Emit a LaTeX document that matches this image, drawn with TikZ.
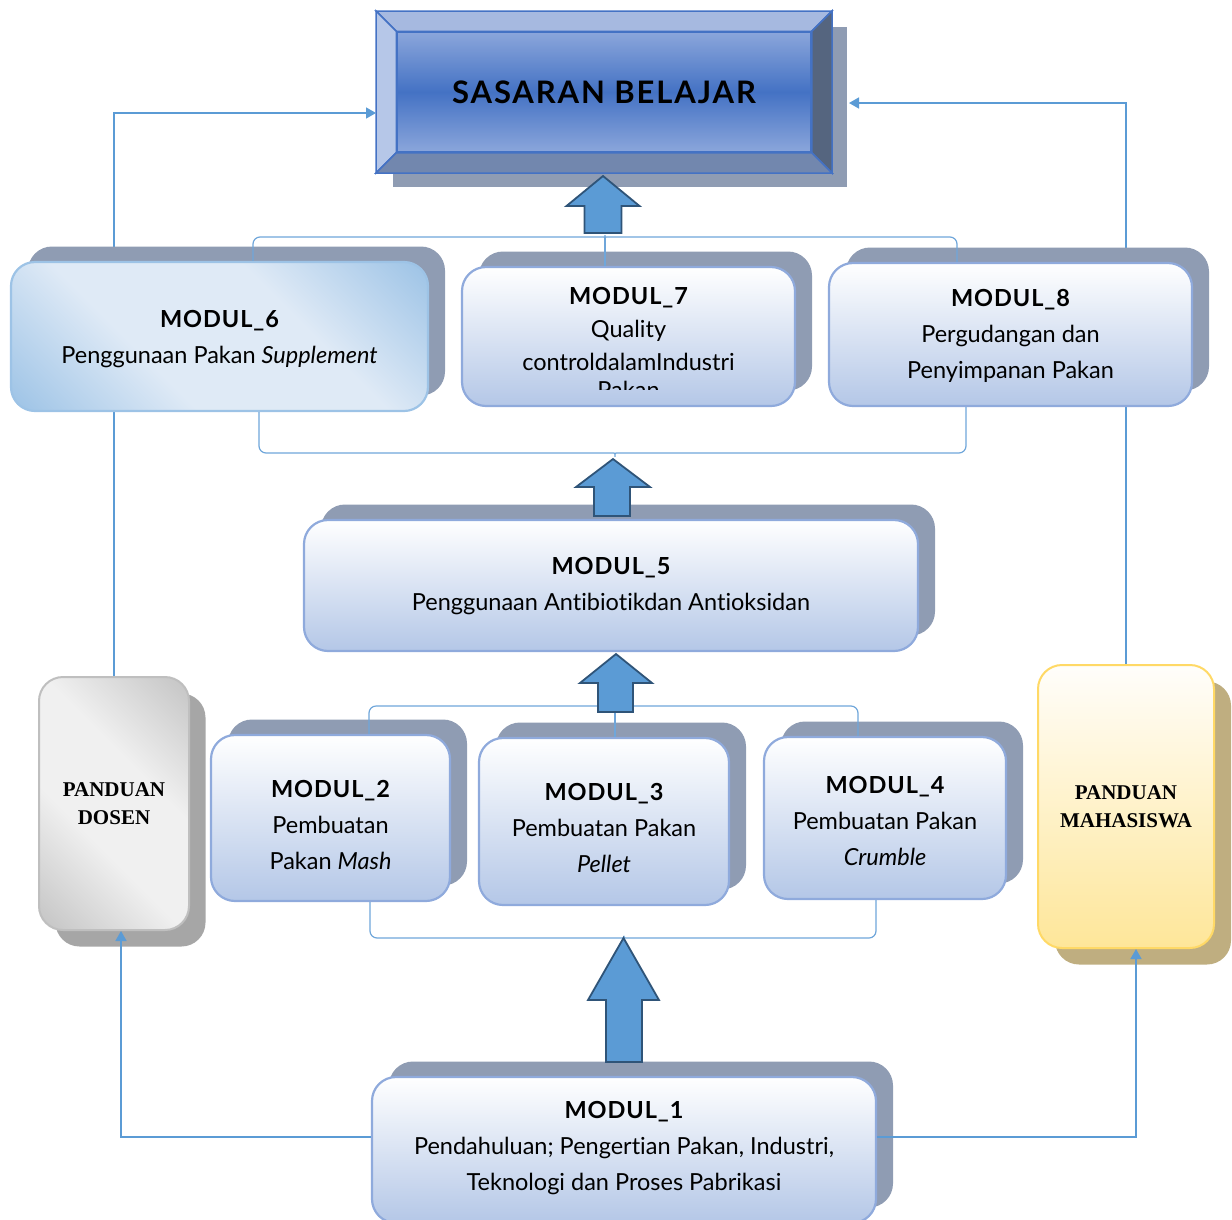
\documentclass[tikz,border=0pt]{standalone}
\usepackage{fontspec}
\setmainfont{Lato}[Ligatures=NoCommon]
\newfontfamily\panduanfont{Liberation Serif}
\usepackage{xcolor}
\usepackage{tikz}
\usetikzlibrary{arrows.meta, positioning, shadows}

\definecolor{linkblue}{HTML}{5B9BD5}
\definecolor{bracketblue}{HTML}{6FA6DA}
\definecolor{arrowfill}{HTML}{5B9BD5}
\definecolor{arrowedge}{HTML}{2F5478}
\definecolor{modedge}{HTML}{8FAADC}
\definecolor{modlow}{HTML}{B4C7E7}
\definecolor{modshadow}{HTML}{8F9CB3}
\definecolor{suppblue}{HTML}{9DC3E6}
\definecolor{supppale}{HTML}{DFEAF6}
\definecolor{sasedge}{HTML}{4472C4}
\definecolor{sasmid}{HTML}{4472C4}
\definecolor{saslight}{HTML}{8BA6DB}
\definecolor{bevtop}{HTML}{A6B9E0}
\definecolor{bevleft}{HTML}{B6C7E8}
\definecolor{bevright}{HTML}{55657F}
\definecolor{bevbottom}{HTML}{7287AE}
\definecolor{grayedge}{HTML}{BFBFBF}
\definecolor{graydark}{HTML}{C4C4C4}
\definecolor{graylight}{HTML}{F0F0F0}
\definecolor{grayshadow}{HTML}{A6A6A6}
\definecolor{mahaedge}{HTML}{FFD966}
\definecolor{mahatop}{HTML}{FFFEFB}
\definecolor{mahalow}{HTML}{FEE699}
\definecolor{mahashadow}{HTML}{BFAE80}

\pgfdeclarehorizontalshading{suppshade}{100bp}{color(0bp)=(suppblue); color(15bp)=(suppblue); color(38bp)=(supppale); color(62bp)=(supppale); color(85bp)=(suppblue); color(100bp)=(suppblue)}
\pgfdeclarehorizontalshading{grayshade}{100bp}{color(0bp)=(graydark); color(15bp)=(graydark); color(40bp)=(graylight); color(60bp)=(graylight); color(85bp)=(graydark); color(100bp)=(graydark)}

\newcommand{\modtitle}[1]{{\bfseries\addfontfeatures{LetterSpace=4}#1}}

\begin{document}
\begin{tikzpicture}[x=1pt, y=-1pt,
  modbox/.style={draw=modedge, line width=2.2pt, rounded corners=24pt, top color=white, bottom color=modlow,
    inner sep=0pt, general shadow={shadow xshift=17pt, shadow yshift=15.5pt, fill=modshadow}},
  modtext/.style={align=center, inner sep=0pt, font=\fontsize{23.5}{36}\selectfont},
  guidebox/.style={line width=2pt, rounded corners=24pt, align=center, inner sep=0pt,
    font=\panduanfont\bfseries\fontsize{21}{28}\selectfont},
  link/.style={draw=linkblue, line width=1.5pt},
  linkarrow/.style={-{Triangle[length=10pt,width=11pt]}},
  bracketline/.style={draw=bracketblue, line width=1.2pt, rounded corners=7pt},
  blockarrow/.style={fill=arrowfill, draw=arrowedge, line width=1.8pt},
]
\useasboundingbox (0,0) rectangle (1232,1219);
\clip (0,0) rectangle (1232,1219);

% guides left and right
\node[guidebox, draw=grayedge, shading=grayshade, shading angle=45, minimum width=150, minimum height=253,
  general shadow={shadow xshift=16.5pt, shadow yshift=-16.5pt, fill=grayshadow}] (dosen) at (114,803.5) {PANDUAN\\DOSEN};
\node[guidebox, draw=mahaedge, top color=mahatop, bottom color=mahalow, minimum width=176, minimum height=283,
  general shadow={shadow xshift=17pt, shadow yshift=-16.5pt, fill=mahashadow}] (maha) at (1126,806.5) {PANDUAN\\MAHASISWA};

% goal box
\node[draw=sasedge, line width=2pt, minimum width=454, minimum height=160, inner sep=0pt,
  general shadow={shadow xshift=16pt, shadow yshift=-15pt, fill=modshadow}] (sasframe) at (604,92) {};
\node[draw=sasedge, line width=1.5pt, minimum width=414, minimum height=120, inner sep=0pt,
  top color=saslight, bottom color=saslight, middle color=sasmid,
  font=\bfseries\fontsize{31}{32}\selectfont\addfontfeatures{LetterSpace=6}] (sasaran) at (604,92) {SASARAN BELAJAR};
\draw[sasedge, line width=1.5pt, fill=bevtop] (sasframe.north west) -- (sasframe.north east) -- (sasaran.north east) -- (sasaran.north west) -- cycle;
\draw[sasedge, line width=1.5pt, fill=bevleft] (sasframe.north west) -- (sasaran.north west) -- (sasaran.south west) -- (sasframe.south west) -- cycle;
\draw[sasedge, line width=1.5pt, fill=bevright] (sasframe.north east) -- (sasaran.north east) -- (sasaran.south east) -- (sasframe.south east) -- cycle;
\draw[sasedge, line width=1.5pt, fill=bevbottom] (sasframe.south west) -- (sasaran.south west) -- (sasaran.south east) -- (sasframe.south east) -- cycle;

% guide links to the goal
\draw[link, linkarrow] (dosen.north) |- ([yshift=-21pt]sasframe.west);
\draw[link, linkarrow] (maha.north) |- ([xshift=17pt,yshift=-11pt]sasframe.east);

% modules
\node[modbox, draw=suppblue, shading=suppshade, shading angle=45, minimum width=417, minimum height=149] (m6) at (219.5,336.5) {};
\node[modbox, minimum width=333, minimum height=139] (m7) at (628.5,336.5) {};
\node[modbox, minimum width=363, minimum height=143] (m8) at (1010.5,334.5) {};
\node[modbox, minimum width=614, minimum height=131] (m5) at (611,585.5) {};
\node[modbox, minimum width=239, minimum height=166] (m2) at (330.5,818) {};
\node[modbox, minimum width=250, minimum height=167] (m3) at (604,821.5) {};
\node[modbox, minimum width=242, minimum height=162] (m4) at (885,818) {};
\node[modbox, minimum width=504, minimum height=146] (m1) at (624,1150) {};

% module texts
\node[modtext] (t6) at ([yshift=-3pt]m6.center) {\modtitle{MODUL\_6}\\Penggunaan Pakan \textit{Supplement}};
\node[modtext, font=\fontsize{23.5}{33}\selectfont] (t7) at ([yshift=7.5pt]m7.center) {\modtitle{MODUL\_7}\\Quality\\controldalamIndustri};
\node[modtext] (t8) at ([yshift=-1pt]m8.center) {\modtitle{MODUL\_8}\\Pergudangan dan\\Penyimpanan Pakan};
\node[modtext] (t5) at ([yshift=-1pt]m5.center) {\modtitle{MODUL\_5}\\Penggunaan Antibiotikdan Antioksidan};
\node[modtext] (t2) at ([yshift=-7pt]m2.center) {\modtitle{MODUL\_2}\\Pembuatan\\Pakan \textit{Mash}};
\node[modtext] (t3) at ([yshift=-6.5pt]m3.center) {\modtitle{MODUL\_3}\\Pembuatan Pakan\\\textit{Pellet}};
\node[modtext] (t4) at ([yshift=-3pt]m4.center) {\modtitle{MODUL\_4}\\Pembuatan Pakan\\\textit{Crumble}};
\node[modtext] (t1) at ([yshift=1.5pt]m1.center) {\modtitle{MODUL\_1}\\Pendahuluan; Pengertian Pakan, Industri,\\Teknologi dan Proses Pabrikasi};

% overflowing last line of modul 7
\begin{scope}
\clip (462,372) rectangle (795,389);
\node[modtext, anchor=base] (t7rest) at (628.5,398) {Pakan};
\end{scope}

% brackets
\coordinate (k1) at (605,237);
\coordinate (k2) at (615,453);
\coordinate (k3) at (615,706);
\coordinate (k4) at (624,938);
\draw[bracketline] ([xshift=33.5pt]m6.north) |- ([xshift=-8pt]k1) .. controls (k1) .. ([yshift=6pt]k1) .. controls (k1) .. ([xshift=8pt]k1) -| ([xshift=-53.5pt]m8.north);
\draw[bracketline] (k1) -- (k1 |- m7.north);
\draw[bracketline] ([xshift=39.5pt]m6.south) |- ([xshift=-8pt]k2) .. controls (k2) .. ([yshift=-8pt]k2) .. controls (k2) .. ([xshift=8pt]k2) -| ([xshift=-44.5pt]m8.south);
\draw[bracketline] ([xshift=38.5pt]m2.north) |- ([xshift=-8pt]k3) .. controls (k3) .. ([yshift=6pt]k3) .. controls (k3) .. ([xshift=8pt]k3) -| ([xshift=-27pt]m4.north);
\draw[bracketline] (k3) -- (k3 |- m3.north);
\draw[bracketline] ([xshift=39.5pt]m2.south) |- ([xshift=-8pt]k4) .. controls (k4) .. ([yshift=-6pt]k4) .. controls (k4) .. ([xshift=8pt]k4) -| ([xshift=-9pt]m4.south);

% block arrows
\draw[blockarrow] (603,176) -- (639.5,206) -- (621.5,206) -- (621.5,233) -- (584.5,233) -- (584.5,206) -- (566.5,206) -- cycle;
\draw[blockarrow] (613,459) -- (650,487) -- (630,487) -- (630,516) -- (594,516) -- (594,487) -- (576,487) -- cycle;
\draw[blockarrow] (616,654) -- (652,683) -- (633,683) -- (633,712) -- (598,712) -- (598,683) -- (580,683) -- cycle;
\draw[blockarrow] (623.5,938) -- (659,1000) -- (642,1000) -- (642,1062) -- (606,1062) -- (606,1000) -- (588,1000) -- cycle;

% module 1 to guides
\draw[link, linkarrow] ([yshift=13pt]m1.west) -| ([xshift=7pt]dosen.south);
\draw[link, linkarrow] ([yshift=13pt]m1.east) -| ([xshift=10pt]maha.south);
\end{tikzpicture}
\end{document}
